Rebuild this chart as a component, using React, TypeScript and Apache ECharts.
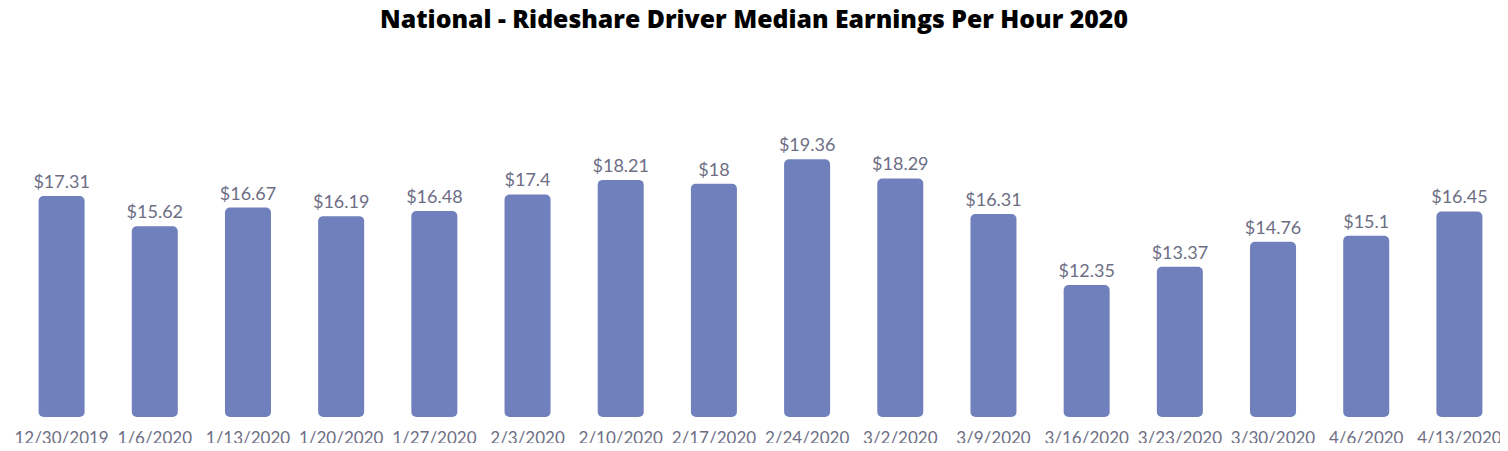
import React, { useEffect, useRef } from "react";
import * as echarts from "echarts";

const categories = [
  "12/30/2019", "1/6/2020", "1/13/2020", "1/20/2020", "1/27/2020", "2/3/2020",
  "2/10/2020", "2/17/2020", "2/24/2020", "3/2/2020", "3/9/2020", "3/16/2020",
  "3/23/2020", "3/30/2020", "4/6/2020", "4/13/2020",
];
const earnings = [
  17.31, 15.62, 16.67, 16.19, 16.48, 17.4, 18.21, 18, 19.36, 18.29, 16.31,
  12.35, 13.37, 14.76, 15.1, 16.45,
];
const titleText = "National - Rideshare Driver Median Earnings Per Hour 2020";

export default function App() {
  const ref = useRef<HTMLDivElement>(null);
  useEffect(() => {
    if (!ref.current) return;
    const chart = echarts.init(ref.current, undefined, { renderer: "svg" });
    chart.setOption({
      animation: false,
      title: {
        text: titleText,
        left: "center",
        top: 0,
        textStyle: { fontFamily: "Open Sans", fontWeight: 800, fontSize: 24.8, color: "#000" },
      },
      grid: { left: 15, right: 2, top: 58, bottom: 34, containLabel: false },
      xAxis: {
        type: "category",
        data: categories,
        axisLine: { show: false },
        axisTick: { show: false },
        axisLabel: {
          interval: 0,
          color: "#6d6e84",
          fontFamily: "Lato",
          fontSize: 17,
          margin: 12,
        },
      },
      yAxis: {
        type: "value",
        min: 5,
        max: 25,
        show: false,
        splitLine: { show: false },
      },
      series: [
        {
          type: "bar",
          data: earnings,
          barWidth: 46,
          itemStyle: { color: "#7080bc", borderRadius: 5 },
          label: {
            show: true,
            position: "top",
            distance: 6,
            formatter: (p: any) => "$" + p.value,
            color: "#6d6e84",
            fontFamily: "Lato",
            fontSize: 18,
          },
        },
      ],
    });
    return () => chart.dispose();
  }, []);
  return <div ref={ref} style={{ width: 1508, height: 451, margin: -8 }} />;
}
